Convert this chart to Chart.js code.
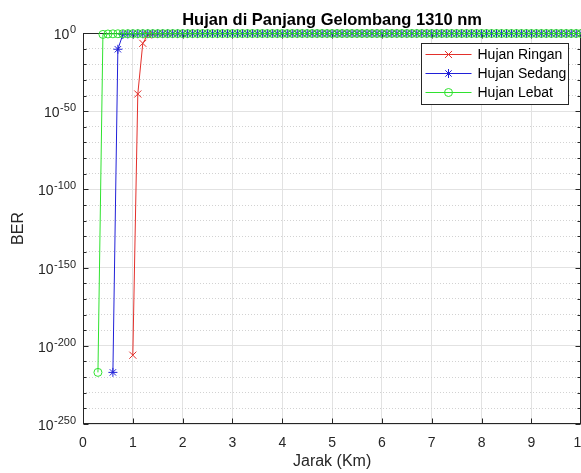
<!DOCTYPE html>
<html>
<head>
<meta charset="utf-8">
<script src="https://cdn.jsdelivr.net/npm/chart.js@4.4.0/dist/chart.umd.min.js"></script>
<style>
  body { margin: 0; background: #fff; }
  #wrap { width: 581px; height: 473px; overflow: hidden; }
</style>
</head>
<body>
<div id="wrap"><canvas id="berChart" width="600" height="473"></canvas></div>
<script>
const FONT = "'Liberation Sans', Arial, sans-serif";
const chartTitle = "Hujan di Panjang Gelombang 1310 nm";
const seriesNames = ["Hujan Ringan", "Hujan Sedang", "Hujan Lebat"];
const xTitle = "Jarak (Km)";
const yTitle = "BER";

// distance in km
const distances = [
  0.3, 0.4, 0.5, 0.6, 0.7, 0.8, 0.9,
  1.0, 1.1, 1.2, 1.3, 1.4, 1.5, 1.6, 1.7, 1.8, 1.9,
  2.0, 2.1, 2.2, 2.3, 2.4, 2.5, 2.6, 2.7, 2.8, 2.9,
  3.0, 3.1, 3.2, 3.3, 3.4, 3.5, 3.6, 3.7, 3.8, 3.9,
  4.0, 4.1, 4.2, 4.3, 4.4, 4.5, 4.6, 4.7, 4.8, 4.9,
  5.0, 5.1, 5.2, 5.3, 5.4, 5.5, 5.6, 5.7, 5.8, 5.9,
  6.0, 6.1, 6.2, 6.3, 6.4, 6.5, 6.6, 6.7, 6.8, 6.9,
  7.0, 7.1, 7.2, 7.3, 7.4, 7.5, 7.6, 7.7, 7.8, 7.9,
  8.0, 8.1, 8.2, 8.3, 8.4, 8.5, 8.6, 8.7, 8.8, 8.9,
  9.0, 9.1, 9.2, 9.3, 9.4, 9.5, 9.6, 9.7, 9.8, 9.9,
  10.0
];

// BER as log10 exponent (BER = 10^value), null = no point
const hujanRingan = [
  null, null, null, null, null, null, null,
  -206, -39, -6.6, -1.2, -0.75, -0.6, -0.52, -0.48, -0.45, -0.43,
  -0.42, -0.41, -0.40, -0.40, -0.39, -0.39, -0.38, -0.38, -0.38, -0.37,
  -0.37, -0.37, -0.37, -0.37, -0.36, -0.36, -0.36, -0.36, -0.36, -0.36,
  -0.36, -0.35, -0.35, -0.35, -0.35, -0.35, -0.35, -0.35, -0.35, -0.35,
  -0.35, -0.35, -0.34, -0.34, -0.34, -0.34, -0.34, -0.34, -0.34, -0.34,
  -0.34, -0.34, -0.34, -0.34, -0.34, -0.34, -0.34, -0.34, -0.34, -0.34,
  -0.34, -0.33, -0.33, -0.33, -0.33, -0.33, -0.33, -0.33, -0.33, -0.33,
  -0.33, -0.33, -0.33, -0.33, -0.33, -0.33, -0.33, -0.33, -0.33, -0.33,
  -0.33, -0.33, -0.32, -0.32, -0.32, -0.32, -0.32, -0.32, -0.32, -0.32,
  -0.32
];
const hujanSedang = [
  null, null, null, -217, -10.4, -0.95, -0.62,
  -0.53, -0.48, -0.45, -0.43, -0.42, -0.41, -0.40, -0.39, -0.39, -0.38,
  -0.38, -0.37, -0.37, -0.37, -0.36, -0.36, -0.36, -0.36, -0.35, -0.35,
  -0.35, -0.35, -0.35, -0.35, -0.35, -0.34, -0.34, -0.34, -0.34, -0.34,
  -0.34, -0.34, -0.34, -0.34, -0.34, -0.34, -0.34, -0.34, -0.34, -0.34,
  -0.34, -0.33, -0.33, -0.33, -0.33, -0.33, -0.33, -0.33, -0.33, -0.33,
  -0.33, -0.33, -0.33, -0.33, -0.33, -0.33, -0.33, -0.33, -0.33, -0.33,
  -0.33, -0.33, -0.32, -0.32, -0.32, -0.32, -0.32, -0.32, -0.32, -0.32,
  -0.32, -0.32, -0.32, -0.32, -0.32, -0.32, -0.32, -0.32, -0.32, -0.32,
  -0.32, -0.32, -0.32, -0.32, -0.32, -0.32, -0.32, -0.32, -0.32, -0.32,
  -0.31
];
const hujanLebat = [
  -217, -0.9, -0.62, -0.52, -0.47, -0.44, -0.42,
  -0.41, -0.40, -0.40, -0.39, -0.39, -0.38, -0.38, -0.38, -0.37, -0.37,
  -0.36, -0.36, -0.36, -0.36, -0.35, -0.35, -0.35, -0.35, -0.35, -0.34,
  -0.34, -0.34, -0.34, -0.34, -0.34, -0.34, -0.34, -0.34, -0.34, -0.34,
  -0.34, -0.34, -0.33, -0.33, -0.33, -0.33, -0.33, -0.33, -0.33, -0.33,
  -0.33, -0.33, -0.33, -0.33, -0.33, -0.33, -0.33, -0.33, -0.33, -0.33,
  -0.33, -0.33, -0.32, -0.32, -0.32, -0.32, -0.32, -0.32, -0.32, -0.32,
  -0.32, -0.32, -0.32, -0.32, -0.32, -0.32, -0.32, -0.32, -0.32, -0.32,
  -0.32, -0.32, -0.32, -0.32, -0.32, -0.32, -0.32, -0.32, -0.32, -0.32,
  -0.32, -0.32, -0.31, -0.31, -0.31, -0.31, -0.31, -0.31, -0.31, -0.31,
  -0.31
];

// y tick labels are 10^n
const yTickExponents = [0, -50, -100, -150, -200, -250];

const colors = ["#e3302b", "#2020d8", "#2fe22f"];
const markers = ["crossRot", "star", "circle"];
const markerSizes = [5, 4.5, 4];

function toPoints(values) {
  return distances.map((d, i) => ({ x: d, y: values[i] }));
}

function drawMarker(ctx, style, x, y, r) {
  ctx.beginPath();
  if (style === "circle") {
    ctx.arc(x, y, r, 0, Math.PI * 2);
  } else {
    const d = r * Math.SQRT1_2;
    ctx.moveTo(x - d, y - d); ctx.lineTo(x + d, y + d);
    ctx.moveTo(x - d, y + d); ctx.lineTo(x + d, y - d);
    if (style === "star") {
      ctx.moveTo(x - r, y); ctx.lineTo(x + r, y);
      ctx.moveTo(x, y - r); ctx.lineTo(x, y + r);
    }
  }
  ctx.stroke();
}

// box, inward ticks, title, y labels and legend the way MATLAB draws them
const matlabAxes = {
  id: "matlabAxes",
  beforeDatasetsDraw(chart) {
    const { ctx, chartArea: a, scales } = chart;
    const l = Math.round(a.left) + 0.5, r = Math.round(a.right) - 0.5;
    const t = Math.round(a.top) + 0.5, b = Math.round(a.bottom) - 0.5;
    ctx.save();
    ctx.strokeStyle = "#262626";
    ctx.lineWidth = 1;
    ctx.strokeRect(l, t, r - l, b - t);
    ctx.beginPath();
    scales.x.ticks.forEach(tk => {
      const px = Math.round(scales.x.getPixelForValue(tk.value)) + 0.5;
      ctx.moveTo(px, b); ctx.lineTo(px, b - 5);
      ctx.moveTo(px, t); ctx.lineTo(px, t + 5);
    });
    scales.yMinor.ticks.forEach(tk => {
      const len = tk.value % 50 === 0 ? 5 : 3;
      const py = Math.round(scales.yMinor.getPixelForValue(tk.value)) + 0.5;
      ctx.moveTo(l, py); ctx.lineTo(l + len, py);
      ctx.moveTo(r, py); ctx.lineTo(r - len, py);
    });
    ctx.stroke();
    ctx.restore();
  },
  afterDraw(chart) {
    const { ctx, chartArea: a, scales } = chart;
    ctx.save();

    // title
    ctx.fillStyle = "#000";
    ctx.font = `bold 16.5px ${FONT}`;
    ctx.textAlign = "center";
    ctx.textBaseline = "alphabetic";
    ctx.fillText(chartTitle, (a.left + a.right) / 2, 25);

    // y tick labels with superscript exponent
    ctx.fillStyle = "#262626";
    ctx.textAlign = "right";
    yTickExponents.forEach(e => {
      const py = scales.y.getPixelForValue(e);
      const xr = scales.y.right - 7;
      const exp = String(e);
      ctx.font = `11px ${FONT}`;
      const ew = ctx.measureText(exp).width;
      ctx.fillText(exp, xr, py);
      ctx.font = `14px ${FONT}`;
      ctx.fillText("10", xr - ew - 0.5, py + 6);
    });

    // legend
    ctx.font = `14px ${FONT}`;
    const dsets = chart.data.datasets;
    const tw = Math.max(...dsets.map(d => ctx.measureText(d.label).width));
    const w = Math.round(56 + tw + 2), h = 61;
    const x0 = Math.round(a.right - 13 - w) + 0.5, y0 = Math.round(a.top + 10) + 0.5;
    ctx.fillStyle = "#fff";
    ctx.fillRect(x0, y0, w, h);
    ctx.strokeStyle = "#262626";
    ctx.lineWidth = 1;
    ctx.strokeRect(x0, y0, w, h);
    ctx.textAlign = "left";
    ctx.textBaseline = "middle";
    dsets.forEach((d, i) => {
      const cy = y0 + 11 + i * 19;
      ctx.strokeStyle = d.borderColor;
      ctx.beginPath();
      ctx.moveTo(x0 + 4, cy); ctx.lineTo(x0 + 50, cy);
      ctx.stroke();
      drawMarker(ctx, d.pointStyle, x0 + 27, cy, d.pointRadius);
      ctx.fillStyle = "#000";
      ctx.fillText(d.label, x0 + 56, cy + 1);
    });
    ctx.restore();
  }
};

const seriesValues = [hujanRingan, hujanSedang, hujanLebat];

const ctx = document.getElementById("berChart").getContext("2d");
new Chart(ctx, {
  type: "line",
  data: {
    datasets: seriesValues.map((vals, i) => ({
      label: seriesNames[i],
      data: toPoints(vals),
      borderColor: colors[i],
      backgroundColor: "rgba(0,0,0,0)",
      pointBackgroundColor: "rgba(0,0,0,0)",
      pointBorderColor: colors[i],
      pointStyle: markers[i],
      pointRadius: markerSizes[i],
      pointBorderWidth: 1,
      borderWidth: 1,
      tension: 0,
      clip: false,
      order: 3 - i
    }))
  },
  options: {
    responsive: false,
    animation: false,
    devicePixelRatio: 1,
    layout: { padding: { top: 33, right: 18, bottom: 0, left: 0 } },
    plugins: {
      legend: { display: false },
      title: { display: false },
      tooltip: { enabled: false }
    },
    scales: {
      x: {
        type: "linear",
        min: 0,
        max: 10,
        ticks: { stepSize: 1, color: "#262626", font: { family: FONT, size: 14 }, padding: 11 },
        grid: { color: "#e2e2e2", drawTicks: false },
        border: { display: false },
        title: { display: true, text: xTitle, color: "#262626", font: { family: FONT, size: 16 }, padding: { top: 0, bottom: 2 } },
        afterFit: s => { s.height = 49; }
      },
      y: {
        type: "linear",
        position: "left",
        min: -250,
        max: 0,
        ticks: { stepSize: 50, display: false },
        grid: { color: "#e2e2e2", drawTicks: false },
        border: { display: false },
        title: { display: true, text: yTitle, color: "#262626", font: { family: FONT, size: 16 }, padding: { top: 9, bottom: 0 } },
        afterFit: s => { s.width = 83; }
      },
      yMinor: {
        type: "linear",
        position: "left",
        min: -250,
        max: 0,
        ticks: { stepSize: 10, display: false },
        grid: {
          color: c => (c.tick && c.tick.value % 50 === 0) ? "rgba(0,0,0,0)" : "#d2d2d2",
          drawTicks: false
        },
        border: { display: false, dash: [1, 2] },
        afterFit: s => { s.width = 0; }
      }
    }
  },
  plugins: [matlabAxes]
});
</script>
</body>
</html>
